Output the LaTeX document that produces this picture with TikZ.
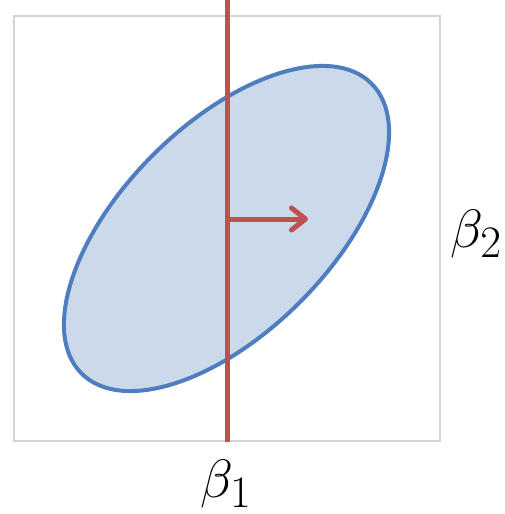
\documentclass[tikz,border=0pt]{standalone}
\usepackage{amsmath}
\usetikzlibrary{arrows.meta,positioning,shapes.geometric}
\definecolor{ellblue}{HTML}{4F7EC0}
\definecolor{ellfill}{HTML}{CCD9EA}
\definecolor{cutred}{HTML}{C0504D}
\definecolor{framegray}{HTML}{D4D4D4}
\tikzset{
  plot/frame/.style={draw=framegray, line width=1.5pt, minimum width=426pt, minimum height=425pt, inner sep=0pt},
  plot/region/.style={ellipse, draw=ellblue, fill=ellfill, line width=4pt, inner sep=0pt,
    minimum width=410pt, minimum height=208pt, rotate=45},
  plot/cut/.style={draw=cutred, line width=5pt},
  plot/normal/.style={plot/cut, -{Straight Barb[length=14pt,width=22pt,round]}},
  plot/label/.style={font=\Huge, scale=2.17, inner sep=0pt}
}
\begin{document}
\begin{tikzpicture}[x=1pt, y=-1pt]
  \useasboundingbox (0,0) rectangle (504,514);
  \node[plot/frame] (frame) at (227,228.5) {};
  \node[plot/region] (region) at (226.5,228.5) {};

  \coordinate (cuttop) at (227,0);
  \coordinate (cutbot) at (cuttop |- frame.south);
  \coordinate (foot) at (227,219);
  \coordinate (head) at (308,219);
  \draw[plot/cut] (cuttop) -- (cutbot);
  \draw[plot/normal] (foot) -- (head);

  \node[plot/label, anchor=base west] (beta2) at (450,247) {$\beta_2$};
  \node[plot/label, anchor=base] (beta1) at (226,497) {$\beta_1$};
\end{tikzpicture}
\end{document}
